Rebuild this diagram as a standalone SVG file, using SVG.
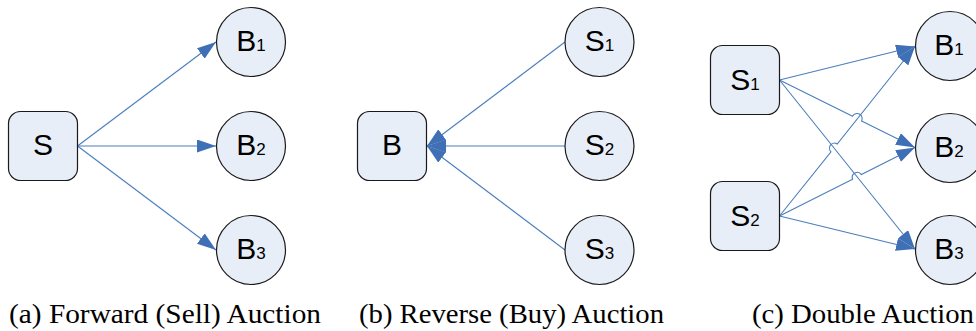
<svg xmlns="http://www.w3.org/2000/svg" width="976" height="331" viewBox="0 0 976 331">
<style>
.box{fill:#E8EEF7;stroke:#1a1a1a;stroke-width:1.2}
.lbl{font-family:"Liberation Sans",Arial,sans-serif;font-size:30px;fill:#000;text-anchor:middle}
.sub{font-size:17px}
.edge{fill:none;stroke:#4A7EBB;stroke-width:1.1}
.cap{font-family:"Liberation Serif","Times New Roman",serif;font-size:27px;fill:#000}
</style>
<defs>
<marker id="ah" markerUnits="userSpaceOnUse" viewBox="0 0 19 13" refX="19" refY="6.5" markerWidth="19" markerHeight="13" orient="auto">
<path d="M0,0 L19,6.5 L0,13 z" fill="#3F6FB5"/>
</marker>
</defs>
<rect width="976" height="331" fill="#fff"/>
<g id="edges">
<path class="edge" marker-end="url(#ah)" d="M77.5,146 L216,42"/>
<path class="edge" marker-end="url(#ah)" d="M77.5,146 L216,146"/>
<path class="edge" marker-end="url(#ah)" d="M77.5,146 L216,250"/>
<path class="edge" marker-end="url(#ah)" d="M565,42 L427,146"/>
<path class="edge" marker-end="url(#ah)" d="M565,146 L427,146"/>
<path class="edge" marker-end="url(#ah)" d="M565,250 L427,146"/>
<path class="edge" marker-end="url(#ah)" d="M779.5,80 L915,46.5"/>
<path class="edge" marker-end="url(#ah)" d="M779.5,80 L852.6,116.3 A5,5 0 0 1 861.6,120.9 L915,147.5"/>
<path class="edge" marker-end="url(#ah)" d="M779.5,80 L915,249"/>
<path class="edge" marker-end="url(#ah)" d="M779.5,216 L831,151.8 A5,5 0 0 1 837.2,144 L915,46.5"/>
<path class="edge" marker-end="url(#ah)" d="M779.5,216 L852.6,179.2 A5,5 0 0 1 861.4,174.6 L915,147.5"/>
<path class="edge" marker-end="url(#ah)" d="M779.5,216 L915,249"/>
</g>
<g id="a_S"><rect class="box" x="8.5" y="111.5" width="69" height="69" rx="12"/><text class="lbl" x="43" y="155">S</text></g>
<g id="a_B1"><circle class="box" cx="251" cy="42" r="34.5"/><text class="lbl" x="251" y="51">B<tspan class="sub">1</tspan></text></g>
<g id="a_B2"><circle class="box" cx="251" cy="146" r="34.5"/><text class="lbl" x="251" y="155">B<tspan class="sub">2</tspan></text></g>
<g id="a_B3"><circle class="box" cx="251" cy="250" r="34.5"/><text class="lbl" x="251" y="259">B<tspan class="sub">3</tspan></text></g>
<g id="b_B"><rect class="box" x="357.5" y="111.5" width="69" height="69" rx="12"/><text class="lbl" x="392" y="155">B</text></g>
<g id="b_S1"><circle class="box" cx="599.5" cy="42" r="34.5"/><text class="lbl" x="599.5" y="51">S<tspan class="sub">1</tspan></text></g>
<g id="b_S2"><circle class="box" cx="599.5" cy="146" r="34.5"/><text class="lbl" x="599.5" y="155">S<tspan class="sub">2</tspan></text></g>
<g id="b_S3"><circle class="box" cx="599.5" cy="250" r="34.5"/><text class="lbl" x="599.5" y="259">S<tspan class="sub">3</tspan></text></g>
<g id="c_S1"><rect class="box" x="710.5" y="45.5" width="69" height="69" rx="12"/><text class="lbl" x="745" y="90">S<tspan class="sub">1</tspan></text></g>
<g id="c_S2"><rect class="box" x="710.5" y="181.5" width="69" height="69" rx="12"/><text class="lbl" x="745" y="226">S<tspan class="sub">2</tspan></text></g>
<g id="c_B1"><circle class="box" cx="950" cy="46" r="34.5"/><text class="lbl" x="949" y="55">B<tspan class="sub">1</tspan></text></g>
<g id="c_B2"><circle class="box" cx="950" cy="148" r="34.5"/><text class="lbl" x="949" y="157">B<tspan class="sub">2</tspan></text></g>
<g id="c_B3"><circle class="box" cx="950" cy="250" r="34.5"/><text class="lbl" x="949" y="259">B<tspan class="sub">3</tspan></text></g>
<g id="captions">
<text class="cap" x="9" y="323" textLength="312" lengthAdjust="spacingAndGlyphs">(a) Forward (Sell) Auction</text>
<text class="cap" x="359" y="323" textLength="305" lengthAdjust="spacingAndGlyphs">(b) Reverse (Buy) Auction</text>
<text class="cap" x="752" y="323" textLength="222" lengthAdjust="spacingAndGlyphs">(c) Double Auction</text>
</g>
</svg>
